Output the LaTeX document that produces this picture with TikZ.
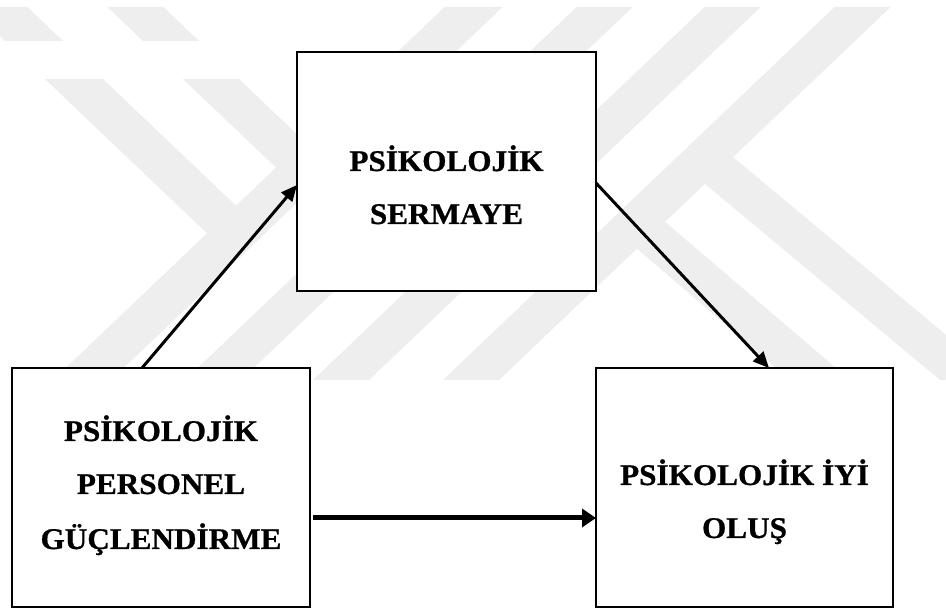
\documentclass[tikz,border=0pt]{standalone}
\usepackage{fontspec}
\setmainfont{Liberation Serif}[FakeStretch=1.04, BoldFeatures={FakeBold=0.8}]
\usetikzlibrary{arrows.meta}
\definecolor{wm}{HTML}{EEEEEE}
\tikzset{
  box/.style={draw=black, line width=1.8pt, fill=white, inner sep=0pt, outer sep=0pt},
  lbl/.style={anchor=base, inner sep=0pt, font=\fontsize{30}{36}\selectfont\bfseries},
  arr/.style={line width=3pt, -{Triangle[length=16pt,width=14pt]}},
  harr/.style={line width=5pt, -{Triangle[length=14pt,width=18pt]}},
  band/.style={fill=wm, draw=none}
}
\begin{document}
\begin{tikzpicture}[x=1pt,y=-1pt]
\useasboundingbox (0,0) rectangle (946,609);
\fill[white] (0,0) rectangle (946,609);
% watermark
\begin{scope}
  \clip (0,7) rectangle (946,380);
  \fill[band] (-30.65,7) -- (27.35,7) -- (265,233.3) -- (236,260.95) -- cycle;
  \fill[band] (107.35,7) -- (163.35,7) -- (398,230.5) -- (370,257.1) -- cycle;
  \fill[band] (444.65,7) -- (502.65,7) -- (111,380) -- (53,380) -- cycle;
  \fill[band] (576.65,7) -- (632.65,7) -- (241,380) -- (185,380) -- cycle;
  \fill[band] (704.65,7) -- (760.65,7) -- (369,380) -- (313,380) -- cycle;
  \fill[band] (834.65,7) -- (890.65,7) -- (499,380) -- (443,380) -- cycle;
  \fill[band] (637,248.6) -- (665,221.9) -- (850,380) -- (790,380) -- cycle;
  \fill[band] (705,183.8) -- (733,157.1) -- (1000,380) -- (940,380) -- cycle;
\end{scope}
\fill[white] (0,41) rectangle (260,79);
% boxes
\node[box, minimum width=299pt, minimum height=239pt] (S) at (446.5,171.5) {};
\node[box, minimum width=298pt, minimum height=239pt] (G) at (161,487.5) {};
\node[box, minimum width=297pt, minimum height=239pt] (I) at (744.5,487.5) {};
% labels
\node[lbl] (s1) at (446.5,171) {PSİKOLOJİK};
\node[lbl] (s2) at (446.5,224) {SERMAYE};
\node[lbl] (g1) at (161,441) {PSİKOLOJİK};
\node[lbl] (g2) at (161,494) {PERSONEL};
\node[lbl] (g3) at (161,549) {GÜÇLENDİRME};
\node[lbl] (i1) at (744.5,485) {PSİKOLOJİK İYİ};
\node[lbl] (i2) at (744.5,538) {OLUŞ};
% connectors
\draw[arr] ([xshift=130pt]G.north west) -- ([yshift=-13.5pt]S.west);
\draw[arr] ([yshift=-11.5pt]S.east) -- ([xshift=173pt]I.north west);
\draw[harr] ([xshift=3pt,yshift=-30.5pt]G.east) -- ([yshift=-30.5pt]I.west);
\end{tikzpicture}
\end{document}
